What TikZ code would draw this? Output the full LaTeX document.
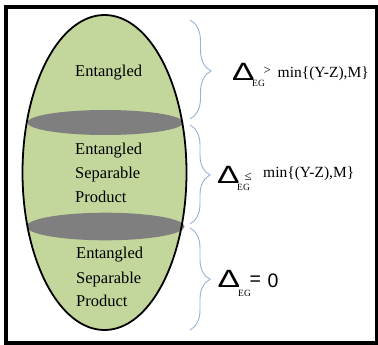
\documentclass[tikz,border=0pt]{standalone}
\usepackage{fontspec}
\setmainfont{Liberation Serif}
\newfontfamily\lsans{Liberation Sans}
\usetikzlibrary{decorations.pathreplacing}
\definecolor{eggfill}{HTML}{C3D69B}
\definecolor{diskgray}{HTML}{7F7F7F}
\definecolor{braceblue}{HTML}{95B3D7}
\newcommand{\bigdelta}{\scalebox{1.35}[1]{Δ}}
\tikzset{
  frameline/.style={draw=black, line width=4pt},
  eggline/.style={draw=black, line width=1.8pt},
  disk/.style={fill=diskgray},
  bracesty/.style={draw=braceblue, line width=0.9pt, decorate},
  eggtext/.style={anchor=base west, inner sep=0pt, font=\fontsize{16.5}{18}\selectfont},
  deltasty/.style={anchor=base west, inner sep=0pt, font=\lsans\fontsize{25}{26}\selectfont},
  substy/.style={anchor=base west, inner sep=0pt, font=\fontsize{9.5}{10}\selectfont},
  relsty/.style={anchor=base west, inner sep=0pt, font=\fontsize{13}{14}\selectfont},
  minsty/.style={anchor=base west, inner sep=0pt, font=\fontsize{15.5}{16}\selectfont},
  sansrel/.style={anchor=base west, inner sep=0pt, font=\lsans\fontsize{19.5}{20}\selectfont}
}
\begin{document}
\begin{tikzpicture}[x=1pt, y=-1pt]
\useasboundingbox (0,0) rectangle (378,345);
% frame
\draw[frameline] (6,7) rectangle (376.5,343);
% egg
\fill[eggfill] (104.5,172.5) ellipse [x radius=82pt, y radius=157.5pt];
\fill[disk] (105.3,122.5) ellipse [x radius=78pt, y radius=12.5pt];
\fill[disk] (105.5,226.5) ellipse [x radius=79pt, y radius=13.8pt];
\draw[eggline] (104.5,172.5) ellipse [x radius=82pt, y radius=157.5pt];
% texts in egg
\node[eggtext] (t1) at (75,76.7) {Entangled};
\node[eggtext] (t2a) at (75,154.3) {Entangled};
\node[eggtext] (t2b) at (75,178.3) {Separable};
\node[eggtext] (t2c) at (75,202.7) {Product};
\node[eggtext] (t3a) at (76,258.3) {Entangled};
\node[eggtext] (t3b) at (76,283.3) {Separable};
\node[eggtext] (t3c) at (76,306.7) {Product};
% braces
\coordinate (b1t) at (190,20);
\coordinate (b1b) at (190,119);
\coordinate (b2t) at (190,125);
\coordinate (b2b) at (190,224);
\coordinate (b3t) at (190,228);
\coordinate (b3b) at (190,330);
\draw[bracesty, decoration={brace, amplitude=21pt, aspect=0.515}] (b1t) -- (b1b);
\draw[bracesty, decoration={brace, amplitude=20pt, aspect=0.505}] (b2t) -- (b2b);
\draw[bracesty, decoration={brace, amplitude=20pt, aspect=0.503}] (b3t) -- (b3b);
% label 1
\node[deltasty] (d1) at (232,80.7) {\bigdelta};
\node[substy] (s1) at (252,86.5) {EG};
\node[relsty] (r1) at (263.5,75) {>};
\node[minsty] (m1) at (277.5,77.3) {min\{(Y-Z),M\}};
% label 2
\node[deltasty] (d2) at (217,183.3) {\bigdelta};
\node[substy] (s2) at (237,190) {EG};
\node[relsty] (r2) at (244.5,180.5) {≤};
\node[minsty] (m2) at (263,177.5) {min\{(Y-Z),M\}};
% label 3
\node[deltasty] (d3) at (217.5,287.3) {\bigdelta};
\node[substy] (s3) at (238,296) {EG};
\node[sansrel] (e3) at (249.5,285.3) {=};
\node[sansrel] (z3) at (267.5,287.3) {0};
\end{tikzpicture}
\end{document}
